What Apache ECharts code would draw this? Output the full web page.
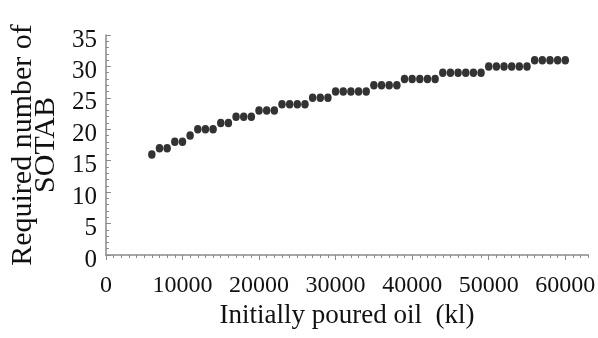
<!DOCTYPE html>
<html>
<head>
<meta charset="utf-8">
<script src="https://cdn.jsdelivr.net/npm/echarts@6/dist/echarts.min.js"></script>
<style>
  html, body { margin: 0; padding: 0; background: #ffffff; }
  #chart { width: 598px; height: 338px; }
</style>
</head>
<body>
<div id="chart"></div>
<script>
// Initially poured oil (kl), one sample every 1000 kl
const oilVolume = [
  6000, 7000, 8000, 9000, 10000, 11000, 12000, 13000, 14000, 15000,
  16000, 17000, 18000, 19000, 20000, 21000, 22000, 23000, 24000, 25000,
  26000, 27000, 28000, 29000, 30000, 31000, 32000, 33000, 34000, 35000,
  36000, 37000, 38000, 39000, 40000, 41000, 42000, 43000, 44000, 45000,
  46000, 47000, 48000, 49000, 50000, 51000, 52000, 53000, 54000, 55000,
  56000, 57000, 58000, 59000, 60000
];
// Required number of SOTAB for each volume
const sotabCount = [
  16, 17, 17, 18, 18, 19, 20, 20, 20, 21,
  21, 22, 22, 22, 23, 23, 23, 24, 24, 24,
  24, 25, 25, 25, 26, 26, 26, 26, 26, 27,
  27, 27, 27, 28, 28, 28, 28, 28, 29, 29,
  29, 29, 29, 29, 30, 30, 30, 30, 30, 30,
  31, 31, 31, 31, 31
];
const xTickLabels = [0, 10000, 20000, 30000, 40000, 50000, 60000];
const yTickLabels = [0, 5, 10, 15, 20, 25, 30, 35];

const serif = 'Liberation Serif';
const axisGray = '#8a8a8a';

const chart = echarts.init(document.getElementById('chart'));
chart.setOption({
  animation: false,
  backgroundColor: '#ffffff',
  grid: { left: 100, right: 8, top: 35, bottom: 83 },
  xAxis: [
    {
      type: 'value',
      min: 0,
      max: 63000,
      interval: 10000,
      name: 'Initially poured oil  (kl)',
      nameLocation: 'middle',
      nameGap: 46,
      nameTextStyle: { fontFamily: serif, fontSize: 27, color: '#111' },
      axisLine: { lineStyle: { color: axisGray, width: 1.5 } },
      axisTick: { show: true, length: 5, lineStyle: { color: axisGray }, customValues: xTickLabels },
      axisLabel: {
        customValues: xTickLabels,
        formatter: (v) => String(v),
        margin: 19,
        fontFamily: serif, fontSize: 24, color: '#111'
      },
      splitLine: { show: false }
    },
    {
      // minor ticks every 1000 kl
      type: 'value',
      position: 'bottom',
      min: 0,
      max: 63000,
      interval: 1000,
      axisLine: { show: false },
      axisTick: { show: true, length: 3, lineStyle: { color: axisGray } },
      axisLabel: { show: false },
      splitLine: { show: false }
    }
  ],
  yAxis: {
    type: 'value',
    min: 0,
    max: 35,
    interval: 5,
    name: 'Required number of\nSOTAB',
    nameLocation: 'middle',
    nameRotate: 90,
    nameGap: 41,
    nameTextStyle: { fontFamily: serif, fontSize: 30, lineHeight: 23, color: '#111' },
    axisLine: { show: true, lineStyle: { color: axisGray, width: 1.5 } },
    axisTick: { show: true, inside: true, length: 5, lineStyle: { color: axisGray } },
    minorTick: { show: true, splitNumber: 5, length: 3, lineStyle: { color: axisGray } },
    axisLabel: {
      customValues: yTickLabels,
      formatter: (v) => String(v),
      margin: 9,
      verticalAlign: 'top',
      lineHeight: 10,
      fontFamily: serif, fontSize: 25, color: '#111'
    },
    splitLine: { show: false }
  },
  series: [{
    type: 'scatter',
    xAxisIndex: 0,
    symbol: 'circle',
    symbolSize: [7.5, 8.5],
    itemStyle: { color: '#000000' },
    data: oilVolume.map((v, i) => [v, sotabCount[i]])
  }]
});
</script>
</body>
</html>
